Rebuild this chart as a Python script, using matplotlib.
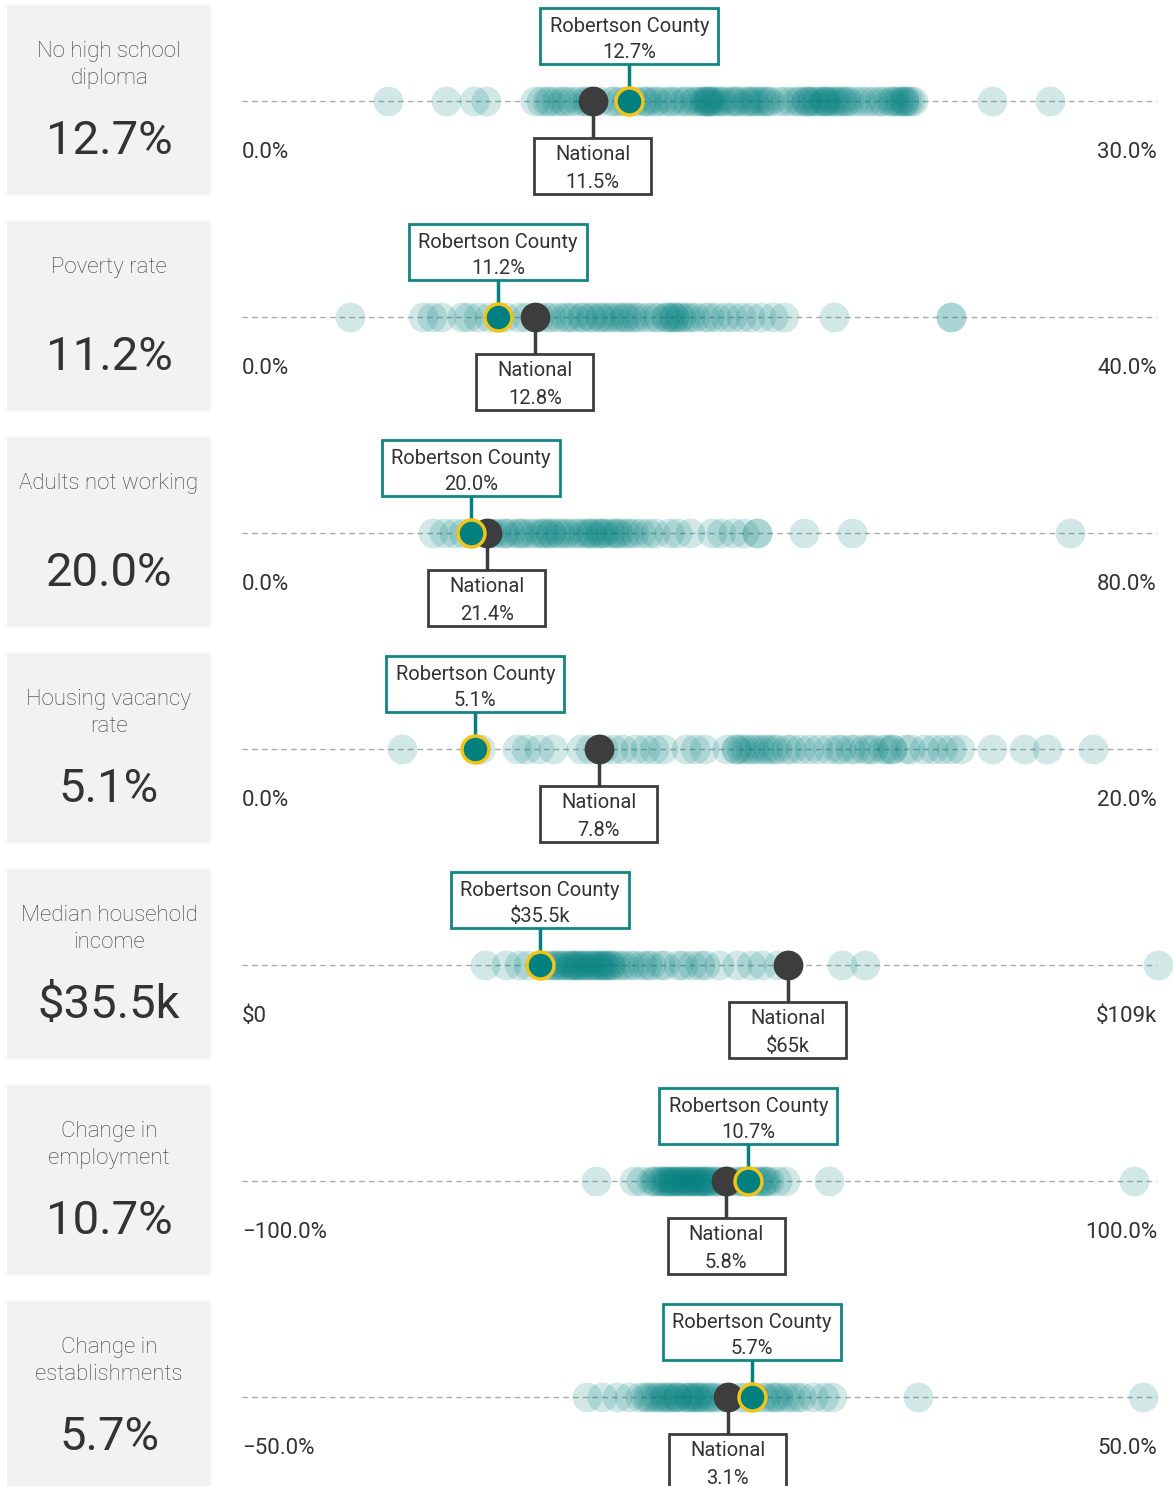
import numpy as np
import matplotlib.pyplot as plt
from matplotlib.patches import Rectangle

plt.rcParams['font.family'] = ['Roboto', 'DejaVu Sans']

# ---- data ----
labels = ['No high school\ndiploma', 'Poverty rate', 'Adults not working',
          'Housing vacancy\nrate', 'Median household\nincome',
          'Change in\nemployment', 'Change in\nestablishments']
county_vals = [12.7, 11.2, 20.0, 5.1, 35.5, 10.7, 5.7]
national_vals = [11.5, 12.8, 21.4, 7.8, 65.0, 5.8, 3.1]
county_text = ['12.7%', '11.2%', '20.0%', '5.1%', r'\$35.5k', '10.7%', '5.7%']
national_text = ['11.5%', '12.8%', '21.4%', '7.8%', r'\$65k', '5.8%', '3.1%']
x_min = [0, 0, 0, 0, 0, -100, -50]
x_max = [30, 40, 80, 20, 109, 100, 50]
min_text = ['0.0%', '0.0%', '0.0%', '0.0%', r'\$0', '\u2212100.0%', '\u221250.0%']
max_text = ['30.0%', '40.0%', '80.0%', '20.0%', r'\$109k', '100.0%', '50.0%']

no_diploma = [4.8, 6.7, 7.6, 8.0, 9.6, 9.8, 10.0, 10.1, 10.3, 10.5, 10.6, 10.8, 11.0,
              11.2, 11.3, 11.4, 11.7, 12.1, 12.2, 12.4, 12.6, 12.9, 13.1, 13.2, 13.3,
              13.5, 13.6, 13.8, 14.0, 14.1, 14.3, 14.5, 14.6, 14.8, 14.9, 15.0, 15.1,
              15.2, 15.2, 15.3, 15.3, 15.4, 15.5, 15.6, 15.7, 15.8, 16.0, 16.1, 16.2,
              16.3, 16.5, 16.6, 16.7, 16.8, 16.9, 17.0, 17.1, 17.2, 17.3, 17.6, 17.8,
              18.0, 18.2, 18.3, 18.5, 18.5, 18.6, 18.7, 18.8, 18.9, 19.0, 19.1, 19.1,
              19.2, 19.3, 19.4, 19.5, 19.6, 19.7, 19.8, 19.9, 20.1, 20.3, 20.5, 20.7,
              20.9, 21.0, 21.2, 21.3, 21.4, 21.5, 21.6, 21.7, 21.7, 21.8, 21.9, 22.0,
              24.6, 26.5]
poverty = [4.7, 7.9, 8.3, 8.7, 9.6, 9.9, 10.3, 10.8, 11.2, 11.5, 12.1, 12.4, 13.0,
           13.3, 13.5, 13.8, 14.1, 14.3, 14.5, 14.8, 14.9, 15.2, 15.3, 15.6, 15.7,
           15.9, 16.1, 16.3, 16.5, 16.7, 16.8, 17.0, 17.2, 17.4, 17.7, 18.0, 18.2,
           18.5, 18.6, 18.7, 18.9, 18.9, 19.1, 19.2, 19.4, 19.6, 19.8, 20.2, 20.4,
           20.7, 21.1, 21.4, 21.8, 22.2, 22.7, 23.2, 23.7, 25.9, 31.0, 31.0]
not_working = [16.7, 17.7, 18.5, 19.3, 20.0, 21.6, 21.9, 22.2, 22.8, 23.0, 23.4,
               24.0, 24.3, 24.6, 25.1, 25.5, 26.0, 26.3, 26.5, 26.9, 27.0, 27.5,
               27.8, 28.2, 28.5, 29.0, 29.4, 29.8, 30.2, 30.4, 30.6, 31.0, 31.3,
               31.5, 31.7, 32.2, 32.5, 32.8, 33.0, 33.5, 33.8, 34.3, 34.9, 35.5,
               36.1, 37.3, 38.0, 39.2, 41.1, 41.9, 42.9, 43.9, 45.0, 45.0, 49.1,
               53.3, 72.4]
vacancy = [3.5, 5.2, 6.0, 6.2, 6.5, 6.8, 7.4, 7.6, 7.8, 7.9, 8.1, 8.3, 8.6, 8.8,
           9.0, 9.2, 9.7, 9.9, 10.1, 10.6, 10.8, 10.8, 10.9, 11.0, 11.1, 11.2, 11.3,
           11.4, 11.5, 11.6, 11.7, 11.9, 12.0, 12.2, 12.4, 12.6, 12.8, 13.0, 13.1,
           13.3, 13.4, 13.6, 13.7, 13.8, 14.0, 14.1, 14.2, 14.2, 14.5, 14.6, 14.9,
           15.1, 15.3, 15.5, 15.7, 16.4, 17.1, 17.6, 18.6]
income = [29.0, 31.4, 33.0, 34.1, 35.5, 36.2, 36.8, 37.0, 37.4, 37.8, 38.0, 38.4,
          38.8, 39.1, 39.3, 39.5, 39.8, 40.0, 40.3, 40.6, 40.8, 41.1, 41.4, 41.7,
          42.0, 42.3, 42.5, 42.8, 43.0, 43.2, 43.5, 43.8, 44.0, 44.4, 45.0, 45.5,
          46.2, 46.8, 47.7, 48.2, 48.7, 49.8, 50.3, 51.9, 52.5, 53.6, 54.6, 55.2,
          56.8, 59.0, 60.6, 62.0, 63.9, 71.5, 74.2, 109.1]
employment = [-22.7, -14.3, -12.7, -10.5, -9.9, -9.4, -8.6, -8.2, -7.8, -7.3, -6.9,
              -6.5, -6.1, -5.7, -5.3, -4.9, -4.5, -4.0, -3.6, -3.2, -2.8, -2.4, -2.1,
              -1.6, -1.2, -0.8, -0.3, 0.0, 0.5, 0.8, 1.2, 1.6, 2.1, 2.6, 3.3, 3.8,
              4.6, 5.5, 6.5, 7.9, 8.9, 9.5, 10.0, 11.2, 12.3, 12.8, 13.7, 14.0, 14.5,
              15.3, 16.9, 18.6, 28.4, 95.0]
establishments = [-12.3, -10.7, -9.0, -7.7, -6.5, -6.0, -5.6, -5.2, -4.8, -4.4, -4.0,
                  -3.8, -3.4, -3.1, -2.7, -2.5, -2.3, -1.8, -1.4, -1.2, -1.0, -0.6,
                  -0.4, -0.2, 0.2, 0.5, 0.9, 1.1, 1.5, 2.0, 2.7, 3.2, 4.4, 5.0, 6.0,
                  6.8, 7.3, 7.9, 8.2, 8.6, 9.3, 9.9, 10.5, 11.1, 12.4, 13.6, 14.5,
                  23.9, 48.5]
counties = [no_diploma, poverty, not_working, vacancy, income, employment, establishments]

# ---- style ----
W, H = 1173, 1486
teal = '#00807f'
dark = '#3d3d3d'
yellow = '#f0c419'
row_step = 216
dot_s = 460

fig = plt.figure(figsize=(W / 100, H / 100), dpi=100)
bg = fig.add_axes([0, 0, 1, 1])
bg.set_xlim(0, W)
bg.set_ylim(H, 0)
bg.axis('off')

for i in range(7):
    top = 5 + row_step * i
    # left panel
    bg.add_patch(Rectangle((7, top), 204, 190, facecolor='#f2f2f2', edgecolor='none'))
    bg.text(109, top + 36, labels[i], ha='center', va='top', fontsize=16,
            fontweight='light', color='#3a3a3a', linespacing=1.35)
    bg.text(109, top + 136, county_text[i], ha='center', va='center', fontsize=34,
            color='#333333')

    # strip
    ax = fig.add_axes([242 / W, 1 - (top + 200) / H, 915 / W, 200 / H])
    ax.set_xlim(x_min[i], x_max[i])
    ax.set_ylim(200, 0)
    ax.axis('off')
    k = (x_max[i] - x_min[i]) / 915.0
    y0 = 96

    ax.plot([x_min[i], x_max[i]], [y0, y0], color='#aaaaaa', lw=1,
            dashes=(4, 3), zorder=1)
    vals = np.array(counties[i])
    ax.scatter(vals, np.full(len(vals), y0), s=dot_s, color=teal, alpha=0.18,
               linewidths=0, zorder=2, clip_on=False)

    # national
    nv = national_vals[i]
    ax.plot([nv, nv], [y0, 133], color=dark, lw=2.5, zorder=3)
    ax.add_patch(Rectangle((nv - 58.5 * k, 133), 117 * k, 56, facecolor='white',
                           edgecolor=dark, lw=2, zorder=3, clip_on=False))
    ax.text(nv, 150, 'National', ha='center', va='center', fontsize=14.5,
            color='#333333', zorder=4)
    ax.text(nv, 177, national_text[i], ha='center', va='center', fontsize=14.5,
            color='#333333', zorder=4)
    ax.scatter([nv], [y0], s=dot_s, color=dark, linewidths=0, zorder=5, clip_on=False)

    # county
    cv = county_vals[i]
    ax.plot([cv, cv], [59, y0], color=teal, lw=2.5, zorder=3)
    ax.add_patch(Rectangle((cv - 89 * k, 3), 178 * k, 56, facecolor='white',
                           edgecolor='#138584', lw=2, zorder=3, clip_on=False))
    ax.text(cv, 21, 'Robertson County', ha='center', va='center', fontsize=14.5,
            color='#333333', zorder=4)
    ax.text(cv, 47, county_text[i], ha='center', va='center', fontsize=14.5,
            color='#333333', zorder=4)
    ax.scatter([cv], [y0], s=dot_s * 0.82, color=teal, edgecolors=yellow,
               linewidths=2.5, zorder=6, clip_on=False)

    # axis end labels
    ax.text(x_min[i], 148, min_text[i], ha='left', va='center', fontsize=16,
            color='#333333')
    ax.text(x_max[i], 148, max_text[i], ha='right', va='center', fontsize=16,
            color='#333333')

fig.savefig('out.png', dpi=100)
